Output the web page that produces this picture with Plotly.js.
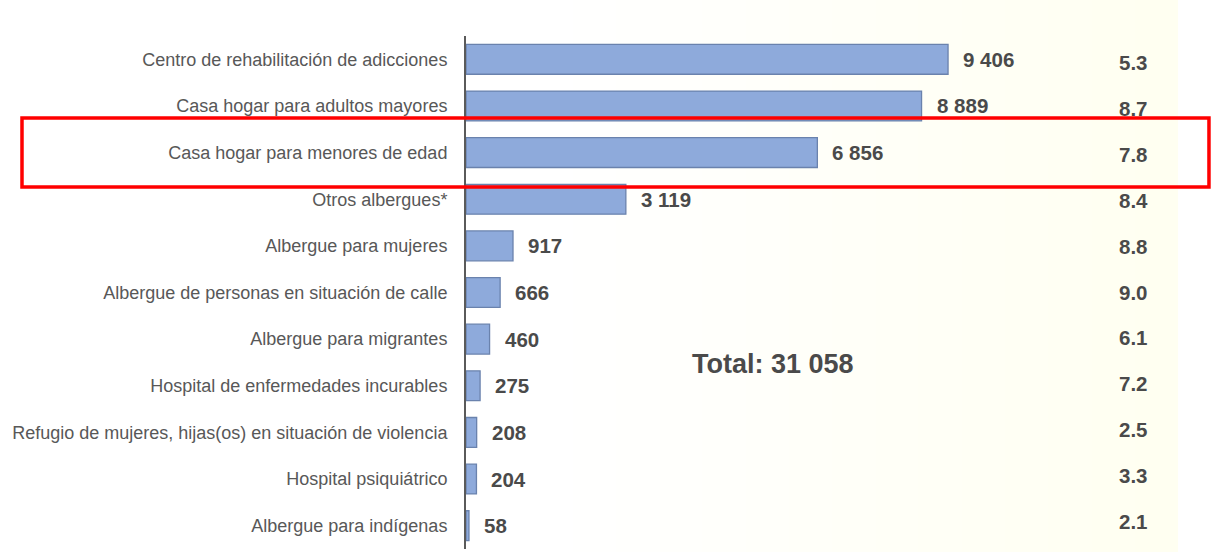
<!DOCTYPE html>
<html>
<head>
<meta charset="utf-8">
<script src="https://cdn.plot.ly/plotly-3.0.1.min.js"></script>
<style>html,body{margin:0;padding:0;background:#fff;}#chart{width:1211px;height:552px;}</style>
</head>
<body>
<div id="chart"></div>
<script>
const categories = [
  "Centro de rehabilitación de adicciones",
  "Casa hogar para adultos mayores",
  "Casa hogar para menores de edad",
  "Otros albergues*",
  "Albergue para mujeres",
  "Albergue de personas en situación de calle",
  "Albergue para migrantes",
  "Hospital de enfermedades incurables",
  "Refugio de mujeres, hijas(os) en situación de violencia",
  "Hospital psiquiátrico",
  "Albergue para indígenas"
];
const values = [9406, 8889, 6856, 3119, 917, 666, 460, 275, 208, 204, 58];
const valueLabels = ["9 406", "8 889", "6 856", "3 119", "917", "666", "460", "275", "208", "204", "58"];
const percents = ["5.3", "8.7", "7.8", "8.4", "8.8", "9.0", "6.1", "7.2", "2.5", "3.3", "2.1"];
const totalLabel = "Total: 31 058";
const highlighted = "Casa hogar para menores de edad";

const FONT = 'Liberation Sans, Arial, sans-serif';

const trace = {
  type: 'bar',
  orientation: 'h',
  y: categories,
  x: values,
  marker: {color: '#8eaadb', line: {color: '#6a82ad', width: 1.3}},
  hoverinfo: 'x+y'
};

const annotations = [];
categories.forEach((c, i) => {
  annotations.push({
    x: values[i], y: c, xref: 'x', yref: 'y',
    text: valueLabels[i], showarrow: false,
    xanchor: 'left', xshift: 13,
    font: {family: FONT, size: 20.5, color: '#4a4a4a', weight: 'bold'}
  });
  annotations.push({
    x: 0.9375, y: c, xref: 'paper', yref: 'y',
    text: percents[i], showarrow: false,
    xanchor: 'center', yshift: -3 + i * 0.7,
    font: {family: FONT, size: 20.5, color: '#4a4a4a', weight: 'bold'}
  });
});
annotations.push({
  x: 0.4315, y: 0.361, xref: 'paper', yref: 'paper',
  text: totalLabel, showarrow: false, xanchor: 'center', yanchor: 'middle',
  font: {family: FONT, size: 27, color: '#4a4a4a', weight: 'bold'}
});

const hi = categories.indexOf(highlighted);
const shapes = [];
// faint cream wash growing towards the right edge of the plot
const steps = 14;
for (let k = 0; k < steps; k++) {
  shapes.push({type: 'rect', xref: 'paper', yref: 'paper',
    x0: 0.15 + k * (0.85 / steps), x1: 1.0, y0: -0.1, y1: 1.1,
    layer: 'below', line: {width: 0}, fillcolor: 'rgba(246,246,222,0.03)'});
}
shapes.push({type: 'rect', xref: 'paper', yref: 'y', x0: -0.6236, x1: 1.0435, y0: hi - 0.74, y1: hi + 0.74,
   line: {color: '#ff0000', width: 3.5}, fillcolor: 'rgba(0,0,0,0)'});

const layout = {
  width: 1211, height: 552,
  margin: {l: 466, r: 33, t: 36, b: 3},
  paper_bgcolor: '#ffffff',
  plot_bgcolor: 'rgba(0,0,0,0)',
  showlegend: false,
  bargap: 0.36,
  xaxis: {range: [0, 13893], visible: false, fixedrange: true},
  yaxis: {
    autorange: 'reversed',
    showline: true, linecolor: '#5a5a5a', linewidth: 2,
    showgrid: false, zeroline: false,
    ticks: 'outside', ticklen: 13, tickcolor: 'rgba(0,0,0,0)',
    tickfont: {family: FONT, size: 18, color: '#585858'}
  },
  annotations: annotations,
  shapes: shapes
};

Plotly.newPlot('chart', [trace], layout, {displayModeBar: false, staticPlot: true});
</script>
</body>
</html>
